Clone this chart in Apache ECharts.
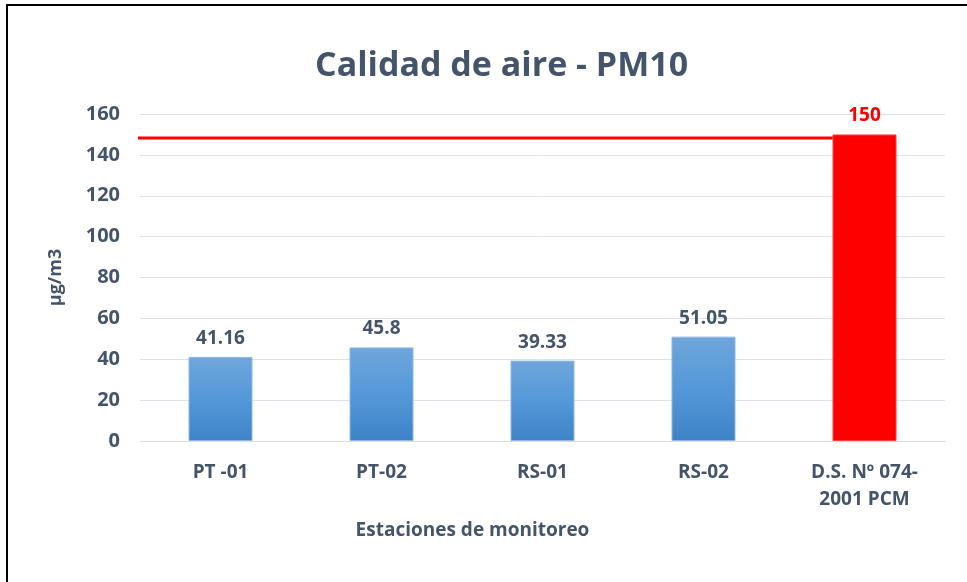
<!DOCTYPE html>
<html>
<head>
<meta charset="utf-8">
<script src="https://cdn.jsdelivr.net/npm/echarts@6/dist/echarts.min.js"></script>
<style>
  html, body { margin: 0; padding: 0; background: #fff; }
  #chart { width: 967px; height: 582px; }
</style>
</head>
<body>
<div id="chart"></div>
<script>
// estaciones de monitoreo
const categories = ['PT -01', 'PT-02', 'RS-01', 'RS-02', 'D.S. Nº 074-\n2001 PCM']
const values = [41.16, 45.8, 39.33, 51.05, 150]
const yTicks = [0, 20, 40, 60, 80, 100, 120, 140, 160]
// linea roja del limite (algo por debajo de 150)
const limitLine = [[-0.07, 148.3], [4.58, 148.3]]

const textColor = '#44546A'
const font = 'Open Sans'

const chart = echarts.init(document.getElementById('chart'))

const barData = values.map((v, i) => {
  const last = i === values.length - 1
  return {
    value: v,
    itemStyle: last ? { color: '#FF0000', borderColor: '#FF4040', borderWidth: 1 } : {
      color: new echarts.graphic.LinearGradient(0, 0, 0, 1, [
        { offset: 0, color: '#6FA6DB' },
        { offset: 0.5, color: '#5498D9' },
        { offset: 1, color: '#3E83C6' }
      ]),
      borderColor: '#8DB9E4',
      borderWidth: 1
    },
    label: last ? { color: '#FF0000' } : {}
  }
})

const option = {
  backgroundColor: '#fff',
  animation: false,
  graphic: [{
    type: 'rect',
    shape: { x: 7, y: 5, width: 980, height: 600 },
    style: { fill: 'none', stroke: '#000', lineWidth: 2 },
    silent: true
  }],
  title: {
    text: 'Calidad de aire - PM10',
    left: 310,
    top: 44,
    textStyle: {
      fontFamily: font,
      fontSize: 34,
      fontWeight: 'bold',
      color: textColor
    }
  },
  grid: {
    left: 140,
    right: 22,
    top: 114,
    bottom: 141
  },
  xAxis: [{
    type: 'category',
    data: categories,
    name: 'Estaciones de monitoreo',
    nameLocation: 'middle',
    nameGap: 80,
    nameTextStyle: {
      fontFamily: font,
      fontSize: 19,
      fontWeight: 'bold',
      color: textColor,
      padding: [0, 140, 0, 0]
    },
    axisLine: { lineStyle: { color: '#D9DDE3' } },
    axisTick: { show: false },
    axisLabel: {
      margin: 18,
      lineHeight: 27,
      fontFamily: font,
      fontSize: 19,
      fontWeight: 'bold',
      color: textColor
    }
  }, {
    // eje auxiliar para la linea del limite
    type: 'value',
    min: 0,
    max: 5,
    show: false
  }],
  yAxis: {
    type: 'value',
    min: yTicks[0],
    max: yTicks[yTicks.length - 1],
    interval: 20,
    name: 'µg/m3',
    nameLocation: 'middle',
    nameGap: 75,
    nameRotate: 90,
    nameTextStyle: {
      fontFamily: font,
      fontSize: 18,
      fontWeight: 'bold',
      color: textColor
    },
    axisLine: { show: false },
    axisTick: { show: false },
    axisLabel: {
      margin: 20,
      fontFamily: font,
      fontSize: 20,
      fontWeight: 'bold',
      color: textColor
    },
    splitLine: { lineStyle: { color: '#DEE2E8', width: 1 } }
  },
  series: [{
    type: 'bar',
    data: barData,
    barWidth: 64,
    label: {
      show: true,
      position: 'top',
      distance: 9,
      fontFamily: font,
      fontSize: 19,
      fontWeight: 'bold',
      color: textColor
    }
  }, {
    type: 'line',
    xAxisIndex: 1,
    data: limitLine,
    clip: false,
    symbol: 'none',
    lineStyle: { color: '#FF0000', width: 3 },
    z: 1
  }]
}

chart.setOption(option)
</script>
</body>
</html>
